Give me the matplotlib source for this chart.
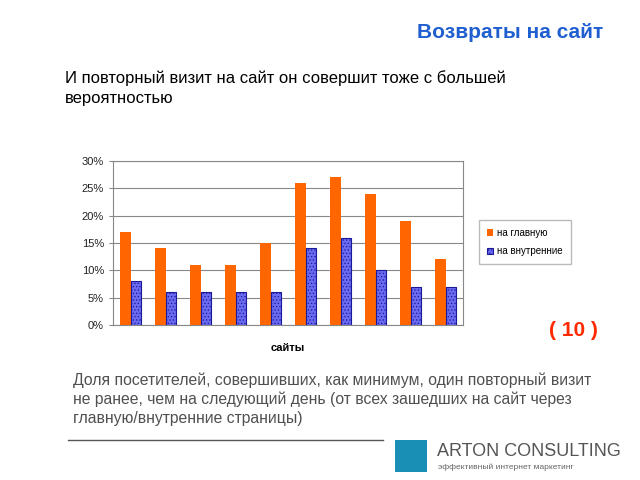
import numpy as np
import matplotlib.pyplot as plt
from matplotlib.patches import Rectangle

plt.rcParams['font.family'] = ['Liberation Sans', 'DejaVu Sans']
plt.rcParams['hatch.color'] = '#5555dd'
plt.rcParams['hatch.linewidth'] = 0.5

sites = list(range(1, 11))
to_main = [17, 14, 11, 11, 15, 26, 27, 24, 19, 12]
to_inner = [8, 6, 6, 6, 6, 14, 16, 10, 7, 7]
yticks = [0, 5, 10, 15, 20, 25, 30]

fig = plt.figure(figsize=(6.4, 4.8), dpi=100)

# headings
fig.text(603 / 640, 1 - 33 / 480, 'Возвраты на сайт', ha='right', va='center',
         fontsize=15, fontweight='bold', color='#1f5fd0')
fig.text(65 / 640, 1 - 88 / 480,
         'И повторный визит на сайт он совершит тоже с большей\nвероятностью',
         ha='left', va='center', fontsize=12, color='black', linespacing=1.45)

ax = fig.add_axes([113 / 640, 1 - 325 / 480, 350 / 640, 164 / 480])
x = np.arange(len(sites))
w = 0.3
ax.bar(x - w / 2, to_main, w, color='#ff6600', label='на главную', zorder=3)
ax.bar(x + w / 2, to_inner, w, color='#6a6af0', edgecolor='#1a1a99', linewidth=0.8,
       hatch='.....', label='на внутренние', zorder=3)

ax.set_xlim(-0.5, len(sites) - 0.5)
ax.set_ylim(0, 30)
ax.set_yticks(yticks)
ax.set_yticklabels([f'{t}%' for t in yticks], fontsize=8, color='#222222')
ax.set_xticks([])
ax.yaxis.grid(True, color='#888888', linewidth=0.8, zorder=0)
ax.tick_params(axis='y', length=3, color='#888888')
for s in ax.spines.values():
    s.set_color('#888888')
    s.set_linewidth(0.8)
ax.set_xlabel('сайты', fontsize=8, fontweight='bold', labelpad=13)

leg = fig.legend(loc='center left', bbox_to_anchor=(474 / 640, 1 - 242 / 480),
                 fontsize=7, frameon=True, fancybox=False, edgecolor='#aaaaaa',
                 handlelength=0.7, handleheight=0.7, handletextpad=0.4,
                 borderpad=0.8, labelspacing=0.9)

fig.text(598 / 640, 1 - 330 / 480, '( 10 )', ha='right', va='center',
         fontsize=15, fontweight='bold', color='#ff2a00')

fig.text(73 / 640, 1 - 399 / 480,
         'Доля посетителей, совершивших, как минимум, один повторный визит\n'
         'не ранее, чем на следующий день (от всех зашедших на сайт через\n'
         'главную/внутренние страницы)',
         ha='left', va='center', fontsize=11.3, color='#505050', linespacing=1.3)

fig.add_artist(plt.Line2D([68 / 640, 383 / 640], [1 - 440 / 480] * 2,
                          color='#555555', linewidth=1))

# logo
fig.add_artist(Rectangle((395 / 640, 1 - 472 / 480), 32 / 640, 32 / 480,
                         facecolor='#1a8fb5', edgecolor='none'))
fig.text(437 / 640, 1 - 452 / 480, 'ARTON CONSULTING', ha='left', va='center',
         fontsize=13, color='#555555')
fig.text(438 / 640, 1 - 467 / 480, 'эффективный интернет маркетинг', ha='left',
         va='center', fontsize=6, color='#666666')

fig.savefig('out.png', dpi=100)
